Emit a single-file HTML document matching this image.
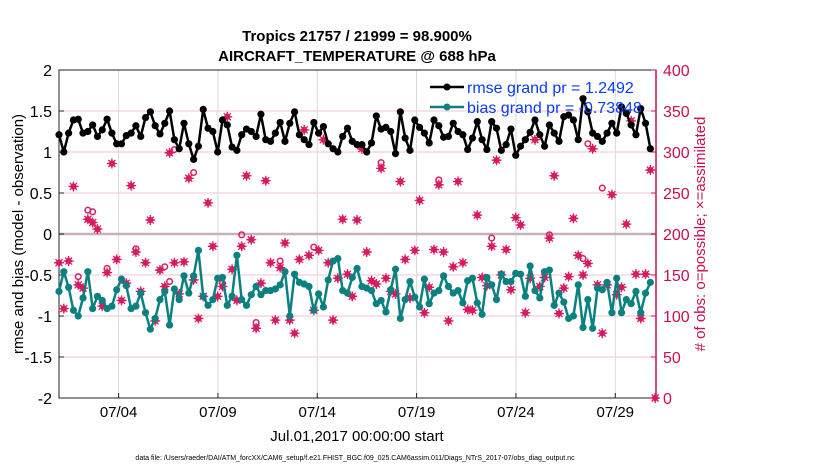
<!DOCTYPE html>
<html><head><meta charset="utf-8"><style>
body{margin:0;background:#fff;}
svg{display:block;font-family:"Liberation Sans",sans-serif;}
</style></head><body>
<svg id="chart" width="830" height="470" viewBox="0 0 830 470" xmlns="http://www.w3.org/2000/svg">
<rect width="830" height="470" fill="#fff"/>
<text x="357" y="41" text-anchor="middle" font-size="15" font-weight="bold">Tropics 21757 / 21999 = 98.900%</text>
<text x="357" y="61" text-anchor="middle" font-size="15" font-weight="bold">AIRCRAFT_TEMPERATURE @ 688 hPa</text>
<g id="grid"></g>
<g id="axes"></g>
<g id="obs"></g>
<g id="series"></g>
<g>
 <line x1="430" y1="87" x2="464" y2="87" stroke="#000" stroke-width="2.5"/><circle cx="447" cy="87" r="3.5" fill="#000"/>
 <text x="467" y="93" font-size="16" fill="#0a3cf5">rmse grand pr = 1.2492</text>
 <line x1="430" y1="107" x2="464" y2="107" stroke="#0a8080" stroke-width="2.5"/><circle cx="447" cy="107" r="3.5" fill="#0a8080"/>
 <text x="467" y="113" font-size="16" fill="#0a3cf5">bias grand pr = -0.73848</text>
</g>
<text x="357" y="441" text-anchor="middle" font-size="15">Jul.01,2017 00:00:00 start</text>
<text transform="translate(23,234) rotate(-90)" text-anchor="middle" font-size="15">rmse and bias (model - observation)</text>
<text transform="translate(705,234) rotate(-90)" text-anchor="middle" font-size="15" fill="#c8104f"># of obs: o=possible; ×=assimilated</text>
<text x="355" y="460" text-anchor="middle" font-size="7">data file: /Users/raeder/DAI/ATM_forcXX/CAM6_setup/f.e21.FHIST_BGC.f09_025.CAM6assim.011/Diags_NTrS_2017-07/obs_diag_output.nc</text>
</svg>
<script>
const rmse=[1.21,1.00,1.23,1.39,1.40,1.23,1.25,1.33,1.19,1.27,1.40,1.23,1.10,1.10,1.20,1.23,1.32,1.19,1.42,1.49,1.32,1.22,1.35,1.50,1.15,1.04,1.35,1.10,0.91,1.07,1.52,1.29,
1.25,1.00,1.39,1.33,1.06,1.02,1.21,1.28,1.25,1.19,1.46,1.15,1.13,1.23,1.36,1.13,1.35,1.49,1.21,1.15,1.09,1.36,1.23,1.31,1.10,1.04,1.00,1.19,1.29,1.13,1.09,
1.09,1.00,1.11,1.44,1.28,1.30,1.25,0.98,1.49,1.17,1.02,1.39,1.30,1.23,1.11,1.39,1.32,1.18,1.19,1.35,1.25,1.21,1.03,1.17,1.37,1.15,1.03,1.37,1.29,1.02,1.09,
1.28,0.96,1.07,1.15,1.24,1.39,1.21,1.07,1.33,1.23,1.13,1.43,1.45,1.39,1.15,1.65,1.49,1.23,1.19,1.13,1.23,1.35,1.23,1.55,1.47,1.33,1.21,1.53,1.35,1.04];
const bias=[-0.70,-0.46,-0.65,-0.93,-1.00,-0.78,-0.46,-0.91,-0.76,-0.81,-0.91,-0.88,-0.68,-0.55,-0.63,-0.91,-0.88,-0.72,-0.96,-1.16,-1.03,-0.80,-0.70,-1.11,-0.67,-0.80,-0.51,-0.72,-0.51,-0.20,-0.76,-0.87,
-0.80,-0.54,-0.53,-0.87,-0.76,-0.26,-0.80,-0.87,-0.74,-0.64,-0.74,-0.69,-0.69,-0.67,-0.62,-0.46,-1.00,-0.49,-0.59,-0.61,-0.64,-0.93,-0.73,-0.89,-0.56,-0.33,-0.30,-0.69,-0.72,-0.53,-0.42,
-0.64,-0.66,-0.69,-0.85,-0.81,-0.95,-0.68,-0.43,-1.03,-0.80,-0.58,-0.77,-0.89,-0.55,-0.85,-0.72,-0.69,-0.51,-0.64,-0.72,-0.69,-0.84,-0.57,-0.54,-0.84,-0.98,-0.53,-0.62,-0.80,-0.49,-0.58,
-0.58,-0.48,-0.49,-0.76,-0.39,-0.69,-0.78,-0.46,-0.44,-0.87,-0.72,-0.83,-1.03,-1.00,-0.62,-1.14,-0.80,-1.15,-0.66,-0.68,-0.59,-0.96,-0.54,-0.96,-0.80,-0.85,-0.70,-0.96,-0.72,-0.59];
const nAssim=[165,109,167,258,138,134,218,214,206,112,153,286,169,119,140,259,178,130,165,217,94,156,136,299,165,127,166,268,144,97,124,238,
185,124,136,343,157,119,185,271,193,85,140,265,165,95,159,189,95,79,169,327,174,107,180,315,165,95,146,218,151,124,217,
304,178,143,139,280,146,130,127,264,169,122,180,241,104,135,181,260,178,94,160,264,165,108,107,223,147,137,185,290,150,181,
132,220,211,104,146,315,136,147,195,271,103,134,148,219,174,150,164,304,138,79,138,248,126,135,212,338,151,97,151,278,0];
const possIdx=[4,6,7,10,16,22,23,24,28,34,38,41,46,53,67,79,90,102,109,110,113];
const nPoss=[148,229,227,158,182,160,142,303,275,140,199,92,167,184,287,266,195,199,170,310,256];
const leftTicks=[-2,-1.5,-1,-0.5,0,0.5,1,1.5,2];
const rightTicks=[0,50,100,150,200,250,300,350,400];
const xTickDays=[3,8,13,18,23,28];
const xTickLabels=["07/04","07/09","07/14","07/19","07/24","07/29"];
const stepDays=0.242;

const L=59,R=656,T=70,B=398;
const xs=d=>L+d*(R-L)/30.05;
const yl=v=>T+(2-v)*(B-T)/4;
const yr=c=>T+(400-c)*(B-T)/400;
const NS="http://www.w3.org/2000/svg";
function mk(tag,attrs,parent){const e=document.createElementNS(NS,tag);for(const k in attrs)e.setAttribute(k,attrs[k]);parent.appendChild(e);return e;}
const grid=document.getElementById('grid'),axes=document.getElementById('axes'),obs=document.getElementById('obs'),ser=document.getElementById('series');

leftTicks.forEach(v=>{ if(v!==2&&v!==-2&&v!==0){const g=mk('line',{x1:L,x2:R,y1:yl(v),y2:yl(v),stroke:'#f2c4d3','stroke-width':1},grid);

}});
xTickDays.forEach(d=>{const g=mk('line',{x1:xs(d),x2:xs(d),y1:T,y2:B,stroke:'#d8d8d8','stroke-width':1},grid);

});
const z=mk('line',{x1:L,x2:R,y1:yl(0),y2:yl(0),stroke:'#c8b0b8','stroke-width':2.5},grid);



const frame=mk('rect',{x:L,y:T,width:R-L,height:B-T,fill:'none',stroke:'#222','stroke-width':1},axes);


const ra=mk('line',{x1:R,x2:R,y1:T,y2:B,stroke:'#c8104f','stroke-width':1.5},axes);


leftTicks.forEach(v=>{mk('line',{x1:L,x2:L+5,y1:yl(v),y2:yl(v),stroke:'#222'},axes);
const t=mk('text',{x:L-7,y:yl(v)+6,'text-anchor':'end','font-size':16},axes);t.textContent=String(v);

});
rightTicks.forEach(c=>{mk('line',{x1:R-5,x2:R,y1:yr(c),y2:yr(c),stroke:'#c8104f'},axes);
const t=mk('text',{x:R+7,y:yr(c)+6,'font-size':16,fill:'#c8104f'},axes);t.textContent=String(c);

});
xTickDays.forEach((d,i)=>{mk('line',{x1:xs(d),x2:xs(d),y1:B,y2:B-5,stroke:'#222'},axes);
const t=mk('text',{x:xs(d),y:B+19,'text-anchor':'middle','font-size':15},axes);t.textContent=xTickLabels[i];

});

const pink='#d81b60';
nAssim.forEach((c,i)=>{const x=xs(i*stepDays),y=yr(c);
const g=mk('g',{},obs);


mk('path',{d:`M${x-4},${y}L${x},${y-4}L${x+4},${y}L${x},${y+4}Z`,fill:pink},g);
mk('path',{d:`M${x-5},${y}H${x+5}M${x},${y-5}V${y+5}M${x-3.5},${y-3.5}L${x+3.5},${y+3.5}M${x-3.5},${y+3.5}L${x+3.5},${y-3.5}`,stroke:pink,'stroke-width':1.3},g);});
possIdx.forEach((idx,k)=>{const c=mk('circle',{cx:xs(idx*stepDays),cy:yr(nPoss[k]),r:2.8,fill:'none',stroke:pink,'stroke-width':1.5},obs);

});

function line(arr,col,name){const d=arr.map((v,i)=>(i?'L':'M')+xs(i*stepDays).toFixed(1)+','+yl(v).toFixed(1)).join('');
const p=mk('path',{d:d,fill:'none',stroke:col,'stroke-width':2.5,'stroke-linejoin':'round'},ser);


arr.forEach((v,i)=>{const c=mk('circle',{cx:xs(i*stepDays),cy:yl(v),r:3.6,fill:col},ser);

});}
line(bias,'#0a8080','bias');
line(rmse,'#000','rmse');
</script>
</body></html>
